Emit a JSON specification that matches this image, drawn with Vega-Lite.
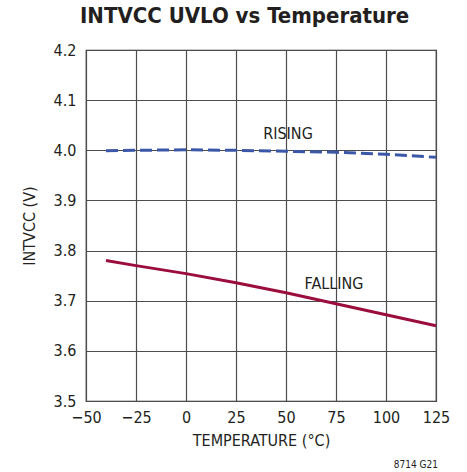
{
  "$schema": "https://vega.github.io/schema/vega-lite/v6.json",
  "width": 350,
  "height": 351,
  "autosize": {"type": "none"},
  "padding": {"left": 86, "top": 50, "right": 31, "bottom": 71},
  "background": "white",
  "title": {
    "text": "INTVCC UVLO vs Temperature",
    "anchor": "start",
    "frame": "group",
    "dx": -6,
    "offset": 14,
    "font": "DejaVu Sans Condensed, Liberation Sans, sans-serif",
    "fontSize": 22,
    "fontWeight": "bold",
    "color": "#231f20"
  },
  "config": {
    "view": {"stroke": "#231f20", "strokeWidth": 1.2},
    "font": "DejaVu Sans Condensed, Liberation Sans, sans-serif"
  },
  "datasets": {
    "curves": [
      {"T": -40, "V": 3.999, "edge": "RISING"},
      {"T": -25, "V": 4.0, "edge": "RISING"},
      {"T": 0, "V": 4.001, "edge": "RISING"},
      {"T": 25, "V": 4.0, "edge": "RISING"},
      {"T": 50, "V": 3.998, "edge": "RISING"},
      {"T": 75, "V": 3.996, "edge": "RISING"},
      {"T": 100, "V": 3.992, "edge": "RISING"},
      {"T": 125, "V": 3.986, "edge": "RISING"},
      {"T": -40, "V": 3.78, "edge": "FALLING"},
      {"T": -25, "V": 3.77, "edge": "FALLING"},
      {"T": 0, "V": 3.754, "edge": "FALLING"},
      {"T": 25, "V": 3.736, "edge": "FALLING"},
      {"T": 50, "V": 3.716, "edge": "FALLING"},
      {"T": 75, "V": 3.694, "edge": "FALLING"},
      {"T": 100, "V": 3.672, "edge": "FALLING"},
      {"T": 125, "V": 3.65, "edge": "FALLING"}
    ],
    "labels": [
      {"T": 51, "V": 4.033, "text": "RISING"},
      {"T": 74, "V": 3.734, "text": "FALLING"}
    ],
    "note": [
      {"T": 125, "V": 3.5, "text": "8714 G21"}
    ]
  },
  "layer": [
    {
      "data": {"name": "curves"},
      "transform": [{"filter": "datum.edge === 'RISING'"}],
      "mark": {"type": "line", "color": "#3b57a8", "strokeWidth": 3, "strokeDash": [12, 5]},
      "encoding": {
        "x": {
          "field": "T", "type": "quantitative",
          "scale": {"domain": [-50, 125], "nice": false, "zero": false},
          "axis": {
            "values": [-50, -25, 0, 25, 50, 75, 100, 125],
            "title": "TEMPERATURE (°C)",
            "titleFont": "DejaVu Sans Condensed, Liberation Sans, sans-serif",
            "titleFontSize": 16,
            "titleFontWeight": "normal",
            "titleColor": "#231f20",
            "titlePadding": 7,
            "labelFont": "DejaVu Sans Condensed, Liberation Sans, sans-serif",
            "labelFontSize": 16,
            "labelColor": "#231f20",
            "labelPadding": 8,
            "ticks": false,
            "domain": false,
            "grid": true,
            "gridColor": "#4d4d4d",
            "gridWidth": 1.2,
            "labelFlush": false
          }
        },
        "y": {
          "field": "V", "type": "quantitative",
          "scale": {"domain": [3.5, 4.2], "nice": false, "zero": false},
          "axis": {
            "values": [3.5, 3.6, 3.7, 3.8, 3.9, 4.0, 4.1, 4.2],
            "format": ".1f",
            "title": "INTVCC (V)",
            "titleFont": "DejaVu Sans Condensed, Liberation Sans, sans-serif",
            "titleFontSize": 16,
            "titleFontWeight": "normal",
            "titleColor": "#231f20",
            "titlePadding": 16,
            "labelFont": "DejaVu Sans Condensed, Liberation Sans, sans-serif",
            "labelFontSize": 16,
            "labelColor": "#231f20",
            "labelPadding": 10,
            "ticks": false,
            "domain": false,
            "grid": true,
            "gridColor": "#4d4d4d",
            "gridWidth": 1.2,
            "labelFlush": false
          }
        }
      }
    },
    {
      "data": {"name": "curves"},
      "transform": [{"filter": "datum.edge === 'FALLING'"}],
      "mark": {"type": "line", "color": "#9b0d3a", "strokeWidth": 3},
      "encoding": {
        "x": {"field": "T", "type": "quantitative"},
        "y": {"field": "V", "type": "quantitative"}
      }
    },
    {
      "data": {"name": "labels"},
      "mark": {"type": "text", "font": "DejaVu Sans Condensed, Liberation Sans, sans-serif", "fontSize": 16, "color": "#231f20", "baseline": "middle", "align": "center"},
      "encoding": {
        "x": {"field": "T", "type": "quantitative"},
        "y": {"field": "V", "type": "quantitative"},
        "text": {"field": "text"}
      }
    },
    {
      "data": {"name": "note"},
      "mark": {"type": "text", "font": "DejaVu Sans Condensed, Liberation Sans, sans-serif", "fontSize": 10, "color": "#231f20", "baseline": "middle", "align": "right", "dy": 64, "dx": 2, "clip": false},
      "encoding": {
        "x": {"field": "T", "type": "quantitative"},
        "y": {"field": "V", "type": "quantitative"},
        "text": {"field": "text"}
      }
    }
  ]
}
